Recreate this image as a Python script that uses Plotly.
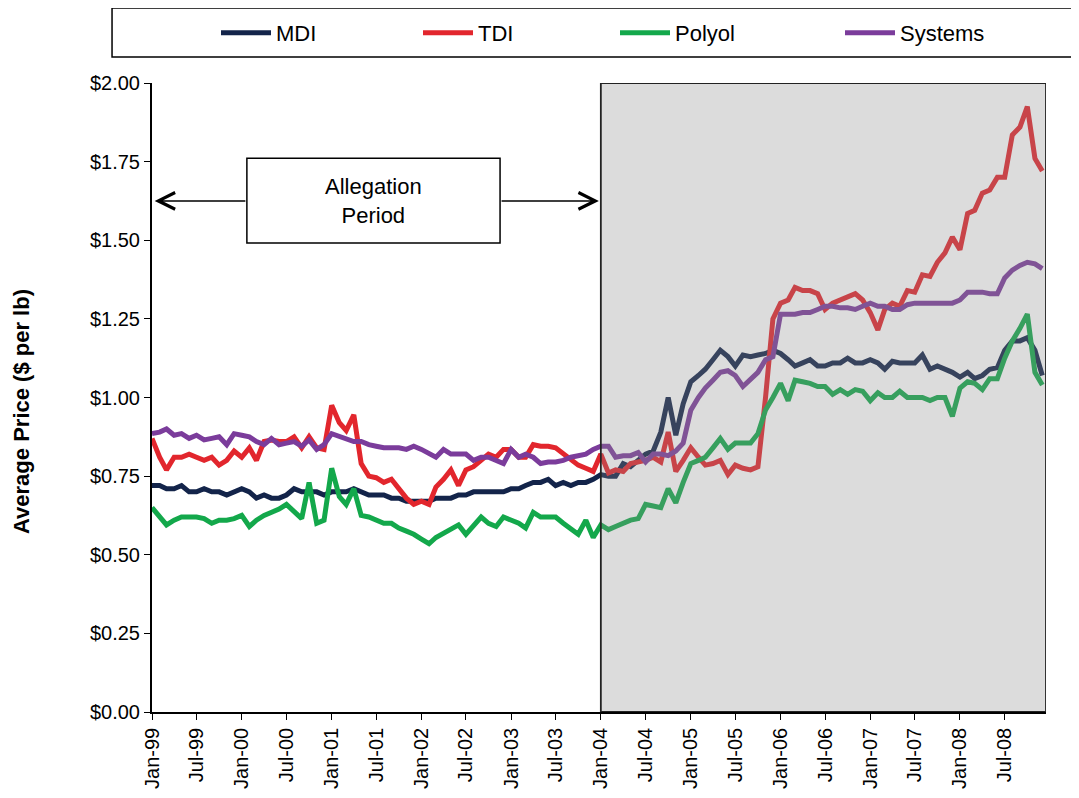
import plotly.graph_objects as go

# ---- data ----
months = [f"{y}-{m:02d}-01" for y in range(1999, 2009) for m in range(1, 13)]

mdi = [0.72, 0.72, 0.71, 0.71, 0.72, 0.70, 0.70, 0.71, 0.70, 0.70, 0.69, 0.70,
       0.71, 0.70, 0.68, 0.69, 0.68, 0.68, 0.69, 0.71, 0.70, 0.70, 0.70, 0.69,
       0.70, 0.70, 0.70, 0.71, 0.70, 0.69, 0.69, 0.69, 0.68, 0.68, 0.67, 0.67,
       0.67, 0.67, 0.68, 0.68, 0.68, 0.69, 0.69, 0.70, 0.70, 0.70, 0.70, 0.70,
       0.71, 0.71, 0.72, 0.73, 0.73, 0.74, 0.72, 0.73, 0.72, 0.73, 0.73, 0.74,
       0.755, 0.75, 0.75, 0.79, 0.78, 0.80, 0.82, 0.83, 0.89, 1.00, 0.88, 0.98,
       1.05, 1.07, 1.09, 1.12, 1.15, 1.13, 1.10, 1.135, 1.13, 1.135, 1.14, 1.15,
       1.14, 1.12, 1.10, 1.11, 1.12, 1.10, 1.10, 1.11, 1.11, 1.125, 1.11, 1.11,
       1.12, 1.11, 1.09, 1.115, 1.11, 1.11, 1.11, 1.135, 1.09, 1.10, 1.09, 1.08,
       1.065, 1.08, 1.06, 1.07, 1.09, 1.095, 1.15, 1.18, 1.18, 1.19, 1.15, 1.07]

tdi = [0.87, 0.81, 0.77, 0.81, 0.81, 0.82, 0.81, 0.80, 0.81, 0.785, 0.80, 0.83,
       0.81, 0.84, 0.80, 0.86, 0.865, 0.86, 0.86, 0.875, 0.84, 0.875, 0.84, 0.835,
       0.975, 0.92, 0.895, 0.945, 0.79, 0.75, 0.745, 0.73, 0.74, 0.71, 0.68, 0.66,
       0.67, 0.66, 0.715, 0.74, 0.77, 0.72, 0.77, 0.78, 0.80, 0.82, 0.81, 0.835,
       0.835, 0.81, 0.81, 0.85, 0.845, 0.845, 0.84, 0.82, 0.80, 0.785, 0.775, 0.765,
       0.82, 0.76, 0.77, 0.765, 0.79, 0.795, 0.80, 0.81, 0.795, 0.89, 0.765, 0.80,
       0.84, 0.81, 0.785, 0.79, 0.80, 0.755, 0.785, 0.775, 0.77, 0.78, 1.00, 1.25,
       1.30, 1.31, 1.35, 1.34, 1.34, 1.33, 1.28, 1.30, 1.31, 1.32, 1.33, 1.31,
       1.27, 1.215, 1.28, 1.30, 1.29, 1.34, 1.335, 1.39, 1.385, 1.43, 1.46, 1.51,
       1.47, 1.585, 1.595, 1.65, 1.66, 1.70, 1.70, 1.835, 1.86, 1.925, 1.76, 1.72]

polyol = [0.65, 0.62, 0.595, 0.61, 0.62, 0.62, 0.62, 0.615, 0.60, 0.61, 0.61, 0.615,
          0.625, 0.59, 0.61, 0.625, 0.635, 0.645, 0.66, 0.64, 0.615, 0.73, 0.60, 0.61,
          0.775, 0.685, 0.66, 0.71, 0.625, 0.62, 0.61, 0.60, 0.60, 0.585, 0.575, 0.565,
          0.55, 0.535, 0.555, 0.57, 0.58, 0.595, 0.565, 0.59, 0.62, 0.60, 0.59, 0.62,
          0.61, 0.60, 0.585, 0.635, 0.62, 0.62, 0.62, 0.60, 0.58, 0.565, 0.61, 0.555,
          0.595, 0.58, 0.59, 0.60, 0.61, 0.615, 0.66, 0.655, 0.65, 0.71, 0.665, 0.73,
          0.79, 0.80, 0.81, 0.84, 0.87, 0.835, 0.855, 0.855, 0.855, 0.885, 0.96, 1.00,
          1.045, 0.99, 1.055, 1.05, 1.045, 1.035, 1.035, 1.01, 1.025, 1.01, 1.025, 1.02,
          0.99, 1.015, 1.00, 1.00, 1.02, 1.00, 1.00, 1.00, 0.99, 1.00, 1.00, 0.94,
          1.03, 1.05, 1.045, 1.025, 1.06, 1.06, 1.125, 1.18, 1.22, 1.265, 1.08, 1.04]

systems = [0.885, 0.89, 0.90, 0.88, 0.885, 0.87, 0.88, 0.865, 0.87, 0.875, 0.85, 0.885,
           0.88, 0.875, 0.86, 0.85, 0.87, 0.85, 0.855, 0.86, 0.845, 0.865, 0.835, 0.85,
           0.885, 0.875, 0.87, 0.86, 0.86, 0.85, 0.845, 0.84, 0.84, 0.84, 0.835, 0.845,
           0.835, 0.82, 0.81, 0.835, 0.82, 0.82, 0.82, 0.80, 0.81, 0.81, 0.80, 0.79,
           0.835, 0.81, 0.82, 0.81, 0.79, 0.795, 0.795, 0.80, 0.81, 0.815, 0.82, 0.835,
           0.845, 0.845, 0.81, 0.815, 0.815, 0.825, 0.795, 0.82, 0.82, 0.815, 0.83, 0.855,
           0.96, 1.00, 1.03, 1.055, 1.08, 1.085, 1.07, 1.035, 1.06, 1.08, 1.12, 1.13,
           1.265, 1.265, 1.265, 1.27, 1.27, 1.28, 1.29, 1.29, 1.285, 1.285, 1.28, 1.29,
           1.30, 1.29, 1.29, 1.28, 1.28, 1.295, 1.30, 1.30, 1.30, 1.30, 1.30, 1.30,
           1.31, 1.335, 1.335, 1.335, 1.33, 1.33, 1.38, 1.405, 1.42, 1.43, 1.425, 1.41]

series_names = ["MDI", "TDI", "Polyol", "Systems"]
series_colors = ["#13244a", "#e2262d", "#13a84b", "#7b3c9b"]
series_values = [mdi, tdi, polyol, systems]

y_tick_values = [0, 0.25, 0.5, 0.75, 1.0, 1.25, 1.5, 1.75, 2.0]
y_tick_labels = ["$0.00", "$0.25", "$0.50", "$0.75", "$1.00", "$1.25", "$1.50", "$1.75", "$2.00"]

FONT = "Liberation Sans, Arial, sans-serif"

# page body adds an 8px margin; figure is sized to fill the rest of the window
W, H = 1071, 790
OFF = 8

fig = go.Figure()
legend_ids = ["legend", "legend2", "legend3", "legend4"]
for name, color, vals, lg in zip(series_names, series_colors, series_values, legend_ids):
    fig.add_trace(go.Scatter(x=months, y=vals, mode="lines", name=name,
                             line=dict(color=color, width=5), legend=lg, showlegend=True))

legend_x_px = [222, 424, 621, 846]
common_legend = dict(orientation="h", xref="container", yref="container",
                     yanchor="middle", y=1 - (33 - OFF) / H, xanchor="left",
                     bgcolor="rgba(0,0,0,0)", borderwidth=0, itemwidth=50,
                     font=dict(family=FONT, size=22, color="#000"))
legends = {}
for lg, px in zip(legend_ids, legend_x_px):
    legends[lg] = dict(common_legend, x=(px - OFF - 6) / W)

x_end = "2008-12-16"

shapes = [
    # legend frame
    dict(type="rect", xref="paper", yref="paper", x0=-0.0447, x1=1.0324, y0=1.0413, y1=1.1192,
         line=dict(color="#000", width=1.5), fillcolor="rgba(0,0,0,0)", layer="below"),
    # post-allegation shaded period
    dict(type="rect", xref="x", yref="y", x0="2004-01-01", x1=x_end, y0=0, y1=2,
         fillcolor="rgba(140,140,140,0.30)", line=dict(color="#222", width=1.8), layer="above"),
    # allegation label box
    dict(type="rect", xref="x", yref="y", x0="2000-01-22", x1="2002-11-17", y0=1.491, y1=1.761,
         fillcolor="white", line=dict(color="#000", width=1.5), layer="above"),
]

annotations = [
    dict(x="2001-06-20", y=1.626, xref="x", yref="y", text="Allegation<br>Period", showarrow=False,
         font=dict(family=FONT, size=22, color="#000"), align="center"),
    dict(x="1999-01-12", y=1.625, ax="2000-01-22", ay=1.625, xref="x", yref="y", axref="x", ayref="y",
         text="", showarrow=True, arrowhead=5, arrowsize=2.2, arrowwidth=1.5, arrowcolor="#000"),
    dict(x="2003-12-24", y=1.625, ax="2002-11-17", ay=1.625, xref="x", yref="y", axref="x", ayref="y",
         text="", showarrow=True, arrowhead=5, arrowsize=2.2, arrowwidth=1.5, arrowcolor="#000"),
    dict(x=-0.1454, y=0.477, xref="paper", yref="paper", text="<b>Average Price ($ per lb)</b>",
         textangle=-90, showarrow=False, xanchor="center", yanchor="middle",
         font=dict(family=FONT, size=22, color="#000")),
]

fig.update_layout(
    width=W, height=H,
    margin=dict(l=152 - OFF, r=W - (1046 - OFF), t=83 - OFF, b=H - (712 - OFF), autoexpand=False),
    paper_bgcolor="white", plot_bgcolor="white",
    font=dict(family=FONT, color="#000"),
    showlegend=True,
    shapes=shapes, annotations=annotations,
    **legends,
)
fig.update_xaxes(type="date", range=["1999-01-01", x_end], tickformat="%b-%y", dtick="M6",
                 tick0="1999-01-01", tickangle=-90, ticks="outside", ticklen=6, tickcolor="#000",
                 showline=True, linecolor="#000", linewidth=1.5, showgrid=False, zeroline=False,
                 tickfont=dict(family=FONT, size=20, color="#000"))
fig.update_yaxes(range=[0, 2], tickmode="array", tickvals=y_tick_values, ticktext=y_tick_labels,
                 ticks="outside", ticklen=6, tickcolor="#000",
                 showline=True, linecolor="#000", linewidth=2, showgrid=False, zeroline=False,
                 tickfont=dict(family=FONT, size=20, color="#000"))

fig.write_html("out.html")
